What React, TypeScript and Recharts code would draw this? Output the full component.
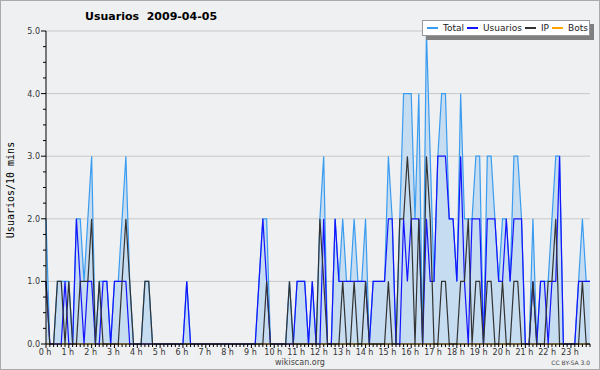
import { ComposedChart, Area, Line, XAxis, YAxis, CartesianGrid } from "recharts";

document.body.style.margin = "0";

const FONT = "'DejaVu Sans', Verdana, sans-serif";

// one value every 10 minutes, 12 values per line = 2 hours
const TOTAL = [
  2, 0, 0, 1, 1, 1, 1, 0, 2, 2, 1, 2, // 0-1 h
  3, 0, 1, 1, 1, 0, 1, 1, 2, 3, 1, 0, // 2-3 h
  0, 0, 1, 1, 0, 0, 0, 0, 0, 0, 0, 0, // 4-5 h
  0, 1, 0, 0, 0, 0, 0, 0, 0, 0, 0, 0, // 6-7 h
  0, 0, 0, 0, 0, 0, 0, 0, 1, 2, 2, 0, // 8-9 h
  0, 0, 0, 0, 1, 0, 1, 1, 1, 0, 1, 0, // 10-11 h
  2, 3, 0, 0, 2, 1, 2, 1, 1, 2, 1, 1, // 12-13 h
  2, 0, 1, 1, 1, 1, 3, 2, 0, 2, 4, 4, // 14-15 h
  4, 2, 4, 0, 5, 3, 1, 3, 4, 4, 2, 2, // 16-17 h
  1, 4, 2, 2, 2, 3, 3, 0, 3, 3, 2, 1, // 18-19 h
  2, 2, 1, 3, 3, 2, 0, 0, 2, 0, 1, 1, // 20-21 h
  1, 2, 3, 3, 0, 0, 0, 0, 1, 2, 1, 1, // 22-23 h
];

const USUARIOS = [
  1, 0, 0, 0, 0, 1, 0, 0, 2, 1, 0, 1,
  1, 0, 0, 1, 1, 0, 1, 1, 1, 1, 0, 0,
  0, 0, 0, 0, 0, 0, 0, 0, 0, 0, 0, 0,
  0, 1, 0, 0, 0, 0, 0, 0, 0, 0, 0, 0,
  0, 0, 0, 0, 0, 0, 0, 0, 1, 2, 1, 0,
  0, 0, 0, 0, 0, 0, 1, 1, 1, 0, 1, 0,
  0, 2, 0, 0, 2, 1, 1, 1, 1, 1, 1, 1,
  1, 0, 1, 1, 1, 1, 2, 2, 0, 0, 2, 1,
  2, 2, 2, 0, 2, 1, 1, 3, 3, 3, 2, 2,
  1, 3, 1, 0, 2, 2, 2, 0, 2, 2, 2, 1,
  1, 2, 1, 2, 2, 2, 0, 0, 1, 0, 1, 1,
  0, 1, 1, 3, 0, 0, 0, 0, 1, 1, 1, 1,
];

const IP = [
  1, 0, 0, 1, 1, 0, 1, 0, 0, 1, 1, 1,
  2, 0, 1, 0, 0, 0, 0, 0, 1, 2, 1, 0,
  0, 0, 1, 1, 0, 0, 0, 0, 0, 0, 0, 0,
  0, 0, 0, 0, 0, 0, 0, 0, 0, 0, 0, 0,
  0, 0, 0, 0, 0, 0, 0, 0, 0, 0, 1, 0,
  0, 0, 0, 0, 1, 0, 0, 0, 0, 0, 0, 0,
  2, 1, 0, 0, 0, 0, 1, 0, 0, 1, 0, 0,
  1, 0, 0, 0, 0, 0, 1, 0, 0, 2, 2, 3,
  2, 0, 2, 0, 3, 2, 0, 0, 1, 1, 0, 0,
  0, 1, 1, 2, 0, 1, 1, 0, 1, 1, 0, 0,
  1, 0, 0, 1, 1, 0, 0, 0, 1, 0, 0, 0,
  1, 1, 2, 0, 0, 0, 0, 0, 0, 1, 0, 0,
];

const BOTS = [
  0, 0, 0, 0, 0, 0, 0, 0, 0, 0, 0, 0,
  0, 0, 0, 0, 0, 0, 0, 0, 0, 0, 0, 0,
  0, 0, 0, 0, 0, 0, 0, 0, 0, 0, 0, 0,
  0, 0, 0, 0, 0, 0, 0, 0, 0, 0, 0, 0,
  0, 0, 0, 0, 0, 0, 0, 0, 0, 0, 0, 0,
  0, 0, 0, 0, 0, 0, 0, 0, 0, 0, 0, 0,
  0, 0, 0, 0, 0, 0, 0, 0, 0, 0, 0, 0,
  0, 0, 0, 0, 0, 0, 0, 0, 0, 0, 0, 0,
  0, 0, 0, 0, 0, 0, 0, 0, 0, 0, 0, 0,
  0, 0, 0, 0, 0, 0, 0, 0, 0, 0, 0, 0,
  0, 0, 0, 0, 0, 0, 0, 0, 0, 0, 0, 0,
  0, 0, 0, 0, 0, 0, 0, 0, 0, 0, 0, 0,
];

const HOUR_LABELS = [
  "0 h", "1 h", "2 h", "3 h", "4 h", "5 h", "6 h", "7 h", "8 h", "9 h", "10 h", "11 h",
  "12 h", "13 h", "14 h", "15 h", "16 h", "17 h", "18 h", "19 h", "20 h", "21 h", "22 h", "23 h",
];

const Y_TICKS = [0, 0.25, 0.5, 0.75, 1, 1.25, 1.5, 1.75, 2, 2.25, 2.5, 2.75, 3, 3.25, 3.5, 3.75, 4, 4.25, 4.5, 4.75, 5];
const Y_GRID = [1, 2, 3, 4, 5];

const COLORS = { total: "#3a9cf0", fill: "#c6dcf0", usuarios: "#1414ff", ip: "#333333", bots: "#ffa500" };

const data = TOTAL.map((t, i) => ({ i, total: t, usuarios: USUARIOS[i], ip: IP[i], bots: BOTS[i] }));
const xTicks = data.map((d) => d.i);

function XTick({ x, y, payload }: any) {
  const v = payload.value;
  const hour = v % 6 === 0;
  return (
    <g>
      <line x1={x} x2={x} y1={y} y2={y + (hour ? 4 : 3)} stroke="#000" />
      {hour && (
        <text x={x - 1} y={y + 11} textAnchor="middle" fontSize={8} fill="#333" fontFamily={FONT}>
          {HOUR_LABELS[v / 6]}
        </text>
      )}
    </g>
  );
}

function YTick({ x, y, payload }: any) {
  const v = payload.value;
  const major = Number.isInteger(v);
  return (
    <g>
      <line x1={x - (major ? 5 : 3)} x2={x} y1={y} y2={y} stroke="#000" />
      {major && (
        <text x={x - 6} y={y + 3} textAnchor="end" fontSize={8} fill="#333" fontFamily={FONT}>
          {v.toFixed(1)}
        </text>
      )}
    </g>
  );
}

const legendItems = [
  { name: "Total", color: COLORS.total },
  { name: "Usuarios", color: COLORS.usuarios },
  { name: "IP", color: COLORS.ip },
  { name: "Bots", color: COLORS.bots },
];

export default function App() {
  return (
    <div style={{ position: "relative", width: 600, height: 370, background: "#eff0f1", fontFamily: FONT }}>
      <ComposedChart width={600} height={370} data={data} margin={{ top: 31, right: 10, bottom: 6, left: 0 }}>
        <CartesianGrid vertical={false} horizontalValues={Y_GRID} stroke="#c8c8c8" />
        <XAxis
          dataKey="i"
          type="number"
          domain={[0, 143]}
          ticks={xTicks}
          interval={0}
          height={20}
          tick={<XTick />}
          tickLine={false}
          tickSize={0}
          tickMargin={0}
          axisLine={{ stroke: "#000" }}
        />
        <YAxis
          type="number"
          domain={[0, 5]}
          ticks={Y_TICKS}
          interval={0}
          width={46}
          tick={<YTick />}
          tickLine={false}
          tickSize={0}
          tickMargin={0}
          axisLine={{ stroke: "#000" }}
        />
        <Area
          type="linear"
          dataKey="total"
          stroke={COLORS.total}
          strokeWidth={1.2}
          fill={COLORS.fill}
          fillOpacity={1}
          dot={false}
          activeDot={false}
          isAnimationActive={false}
        />
        <Line type="linear" dataKey="bots" stroke={COLORS.bots} strokeWidth={1} dot={false} activeDot={false} isAnimationActive={false} />
        <Line type="linear" dataKey="usuarios" stroke={COLORS.usuarios} strokeWidth={1.2} dot={false} activeDot={false} isAnimationActive={false} />
        <Line type="linear" dataKey="ip" stroke={COLORS.ip} strokeWidth={1.2} dot={false} activeDot={false} isAnimationActive={false} />
      </ComposedChart>

      <div style={{ position: "absolute", left: 85, top: 10, fontSize: 11, fontWeight: "bold", whiteSpace: "pre", color: "#000" }}>
        {"Usuarios  2009-04-05"}
      </div>

      <div
        style={{
          position: "absolute",
          left: 422,
          top: 20,
          width: 168,
          height: 16,
          background: "#fff",
          border: "1px solid #999",
          boxShadow: "4px 4px 0 #808080",
          display: "flex",
          alignItems: "center",
          fontSize: 9,
          color: "#222",
          paddingLeft: 4,
          boxSizing: "border-box",
        }}
      >
        {legendItems.map((it) => (
          <div key={it.name} style={{ display: "flex", alignItems: "center", marginRight: 3 }}>
            <span style={{ display: "inline-block", width: 11, height: 1.5, background: it.color, marginRight: 5 }} />
            <span>{it.name}</span>
          </div>
        ))}
      </div>

      <div
        style={{
          position: "absolute",
          left: 10,
          top: 190,
          transform: "translate(-50%, -50%) rotate(-90deg)",
          fontFamily: "'DejaVu Sans Mono', monospace",
          fontSize: 10,
          whiteSpace: "nowrap",
          color: "#000",
        }}
      >
        Usuarios/10 mins
      </div>

      <div style={{ position: "absolute", left: 0, width: 600, top: 358, lineHeight: "9px", textAlign: "center", fontSize: 8, color: "#444" }}>
        wikiscan.org
      </div>
      <div style={{ position: "absolute", right: 10, top: 359, lineHeight: "7px", fontSize: 6, color: "#444" }}>CC BY-SA 3.0</div>

      <div style={{ position: "absolute", inset: 0, border: "1px solid #aaa", pointerEvents: "none" }} />
    </div>
  );
}
